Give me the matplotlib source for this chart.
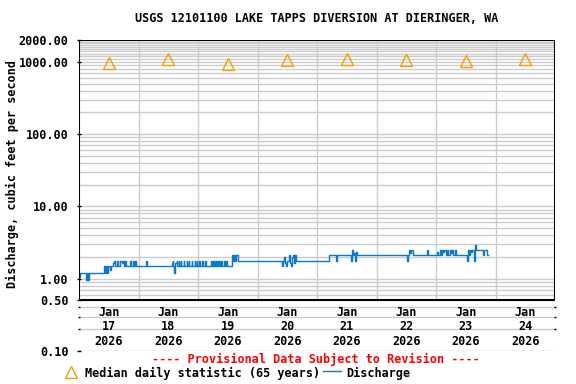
import numpy as np
import matplotlib
matplotlib.use("Agg")
import matplotlib.pyplot as plt
from matplotlib.patches import Rectangle
from matplotlib.lines import Line2D

# =========================
# Data (hours since Jan 17 2026 00:00)
# =========================
day_labels = ["Jan\n17\n2026", "Jan\n18\n2026", "Jan\n19\n2026", "Jan\n20\n2026",
              "Jan\n21\n2026", "Jan\n22\n2026", "Jan\n23\n2026", "Jan\n24\n2026"]
median_hours = [12, 36, 60, 84, 108, 132, 156, 180]
median_cfs = [950, 1090, 940, 1060, 1090, 1060, 1020, 1090]

q_hours = [0.0, 0.5, 2.7, 3.2, 3.6, 4.0,
           10.1, 10.5, 10.9, 11.3, 11.6, 12.5, 12.9, 13.7, 14.1, 14.5, 15.3, 15.8,
           16.5, 17.2, 17.6, 18.0, 18.6, 19.0, 20.6, 21.0, 21.8, 22.2, 22.6, 23.0,
           27.0, 27.4,
           37.4, 37.8, 38.1, 38.4, 38.8, 39.4, 39.7, 40.2, 40.5, 41.0, 41.3, 42.2, 42.5,
           43.4, 43.7, 44.2, 44.5, 45.4, 45.7, 46.6, 46.9, 47.4, 47.7, 48.6, 48.9,
           49.8, 50.1, 51.0, 51.3, 53.4, 53.7, 54.2, 54.5, 55.0, 55.3, 55.8, 56.1,
           56.6, 56.9, 57.4, 57.7, 58.6, 58.9, 59.4, 59.7,
           61.6, 62.0, 62.5, 63.0, 63.5, 64.0,
           81.8, 82.2, 82.8, 83.2, 83.6, 84.0, 84.6, 85.0, 85.6, 86.0, 86.4, 86.8,
           87.2, 87.6,
           100.9, 103.8, 104.2,
           109.7, 110.0, 110.3, 110.7, 111.0, 111.5, 111.9, 112.2,
           132.4, 132.8, 133.1, 133.5, 133.9, 134.6,
           140.4, 140.8,
           144.3, 144.7, 145.5, 145.9, 146.4, 147.0, 147.4, 148.0, 148.4, 149.0,
           149.6, 150.0, 150.4, 150.9, 151.6, 152.0,
           156.4, 156.8, 156.9, 157.3, 157.7, 158.3, 158.7, 159.3, 159.6, 160.0,
           163.0, 163.3, 164.5, 164.8]
q_cfs = [1.05, 1.2, 0.97, 1.2, 0.97, 1.2,
         1.51, 1.2, 1.51, 1.2, 1.51, 1.3, 1.51, 1.63, 1.73, 1.51, 1.73, 1.51,
         1.73, 1.63, 1.73, 1.51, 1.73, 1.51, 1.73, 1.51, 1.73, 1.51, 1.73, 1.51,
         1.73, 1.51,
         1.63, 1.73, 1.51, 1.2, 1.63, 1.73, 1.51, 1.73, 1.51, 1.73, 1.51, 1.73, 1.51,
         1.73, 1.51, 1.73, 1.51, 1.73, 1.51, 1.73, 1.51, 1.73, 1.51, 1.73, 1.51,
         1.73, 1.51, 1.73, 1.51, 1.73, 1.51, 1.73, 1.51, 1.73, 1.51, 1.73, 1.51,
         1.73, 1.51, 1.73, 1.51, 1.73, 1.51, 1.73, 1.51,
         2.15, 1.73, 2.15, 1.73, 2.15, 1.77,
         1.51, 1.77, 2.0, 1.63, 1.51, 1.77, 2.15, 1.63, 1.51, 2.0, 2.15, 1.63,
         2.15, 1.77,
         2.15, 1.73, 2.15,
         1.73, 2.15, 2.52, 2.15, 2.3, 1.73, 2.35, 2.15,
         1.73, 2.15, 2.52, 2.3, 2.52, 2.15,
         2.52, 2.15,
         2.35, 2.15, 2.52, 2.15, 2.52, 2.35, 2.52, 2.15, 2.52, 2.15,
         2.52, 2.3, 2.52, 2.15, 2.52, 2.15,
         1.73, 2.15, 2.52, 2.15, 2.52, 2.35, 2.52, 1.73, 2.95, 2.52,
         2.15, 2.52, 2.15, 2.15]

ytick_vals = [0.1, 0.5, 1, 10, 100, 1000, 2000]

# =========================
# Styling
# =========================
FONT = "DejaVu Sans Mono"
FS = 8.5
GRID = "#cccccc"
ORANGE = "#f5a000"
BLUE = "#0a78cc"

fig = plt.figure(figsize=(5.76, 3.84), dpi=100)
W, H = 576, 384
x0p, x1p, y0p, y1p = 79, 555, 40, 351
ax = fig.add_axes([x0p / W, 1 - y1p / H, (x1p - x0p) / W, (y1p - y0p) / H])

xmin, xmax = 0, 192
ax.set_yscale("log")
ax.set_xlim(xmin, xmax)
ax.set_ylim(0.1, 2000)
for s in ax.spines.values():
    s.set_visible(False)

# horizontal grid lines
grid_vals = []
for dec in [0.1, 1, 10, 100]:
    grid_vals += [dec * k for k in range(2, 11)]
grid_vals += [1000 + 100 * k for k in range(1, 11)]
grid_vals = [g for g in grid_vals if g >= 0.2]
ax.hlines(grid_vals, xmin, xmax, color=GRID, lw=1, zorder=1)
ax.hlines([0.1], xmin, xmax, color=GRID, lw=1, zorder=1)
# vertical grid lines (only in the box)
ax.vlines(np.arange(24, 192, 24), 0.5, 2000, color=GRID, lw=1, zorder=1)

# frame
ax.add_patch(Rectangle((xmin, 0.5), xmax - xmin, 2000 - 0.5, fill=False,
                       edgecolor="black", lw=1.5, zorder=5))

# data
ax.plot(q_hours, q_cfs, drawstyle="steps-post", color=BLUE, lw=1, zorder=3)
ax.plot(median_hours, median_cfs, linestyle="none", marker="^", markersize=8,
        markerfacecolor="none", markeredgecolor=ORANGE, markeredgewidth=1, zorder=4)

# ticks
ax.set_yticks(ytick_vals)
ax.set_yticklabels([f"{v:.2f}" for v in ytick_vals], fontfamily=FONT,
                   fontweight="bold", fontsize=FS)
ax.yaxis.set_minor_locator(matplotlib.ticker.FixedLocator([0.2, 0.3, 0.4]))
ax.yaxis.set_minor_formatter(matplotlib.ticker.NullFormatter())
ax.tick_params(axis="y", which="major", direction="inout", length=3, width=1, pad=6,
               left=True, right=False)
ax.tick_params(axis="y", which="minor", direction="inout", length=2, width=1,
               left=True, right=True)
ax.set_xticks([])

for h, lab in zip(median_hours, day_labels):
    ax.text(h, 0.215, lab, ha="center", va="center", fontfamily=FONT,
            fontweight="bold", fontsize=FS, linespacing=1.15, zorder=6)

# title & labels
fig.text(317 / W, 1 - 19 / H, "USGS 12101100 LAKE TAPPS DIVERSION AT DIERINGER, WA",
         ha="center", va="center", fontfamily=FONT, fontweight="bold", fontsize=FS)
fig.text(12 / W, 1 - 174 / H, "Discharge, cubic feet per second", rotation=90,
         ha="center", va="center", fontfamily=FONT, fontweight="bold", fontsize=FS)
fig.text(316 / W, 1 - 359 / H, "---- Provisional Data Subject to Revision ----",
         ha="center", va="center", fontfamily=FONT, fontweight="bold", fontsize=FS,
         color="red")

# legend
fig.add_artist(Line2D([71 / W], [1 - 372 / H], marker="^", markersize=8,
                      markerfacecolor="none", markeredgecolor=ORANGE,
                      linestyle="none", transform=fig.transFigure))
fig.text(85 / W, 1 - 373 / H, "Median daily statistic (65 years)", ha="left",
         va="center", fontfamily=FONT, fontweight="bold", fontsize=FS)
fig.add_artist(Line2D([323 / W, 341 / W], [1 - 371 / H, 1 - 371 / H], color=BLUE,
                      lw=1, transform=fig.transFigure))
fig.text(346 / W, 1 - 373 / H, "Discharge", ha="left", va="center", fontfamily=FONT,
         fontweight="bold", fontsize=FS)

fig.savefig("out.png", dpi=100)
